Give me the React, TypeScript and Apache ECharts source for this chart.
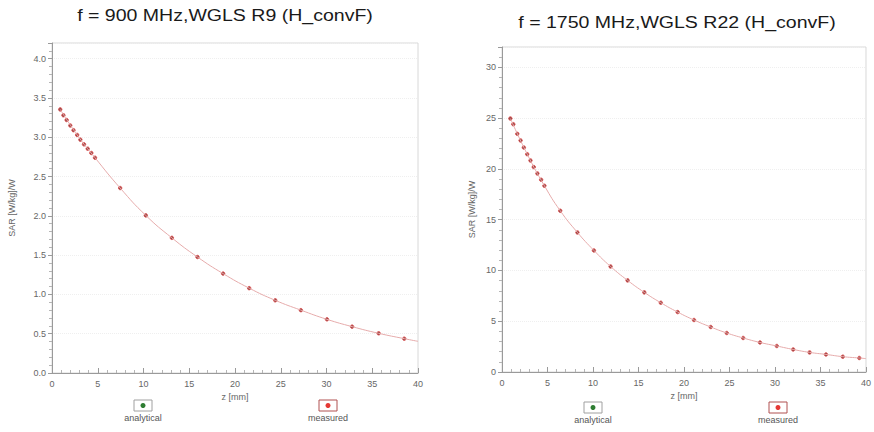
import React, { useEffect, useRef } from "react";
import * as echarts from "echarts";

const leftTitle = "f = 900 MHz,WGLS R9 (H_convF)";
const rightTitle = "f = 1750 MHz,WGLS R22 (H_convF)";
const yName = "SAR [W/kg]/W";
const xName = "z [mm]";
const legendNames = ["analytical", "measured"];

// Left panel (900 MHz) measured points
const leftZ = [0.9, 1.25, 1.6, 2.0, 2.35, 2.75, 3.1, 3.5, 3.9, 4.3, 4.7, 7.45, 10.25, 13.1, 15.9, 18.7, 21.55, 24.4, 27.2, 30.05, 32.8, 35.7, 38.5];
const leftSar = [3.355, 3.28, 3.22, 3.15, 3.09, 3.03, 2.97, 2.91, 2.855, 2.8, 2.74, 2.354, 2.006, 1.72, 1.476, 1.265, 1.08, 0.925, 0.8, 0.683, 0.59, 0.505, 0.437];
// Left analytical curve
const leftLineZ = [0.9, 2.75, 4.7, 7.45, 10.25, 13.1, 15.9, 18.7, 21.55, 24.4, 27.2, 30.05, 32.8, 35.7, 38.5, 40];
const leftLineSar = [3.355, 3.03, 2.74, 2.354, 2.006, 1.72, 1.476, 1.265, 1.08, 0.925, 0.8, 0.683, 0.59, 0.505, 0.437, 0.403];

// Right panel (1750 MHz) measured points
const rightZ = [0.92, 1.24, 1.68, 2.04, 2.4, 2.77, 3.13, 3.49, 3.89, 4.3, 4.66, 6.4, 8.29, 10.1, 11.93, 13.8, 15.64, 17.45, 19.3, 21.1, 22.94, 24.7, 26.5, 28.35, 30.2, 32.0, 33.8, 35.6, 37.45, 39.26];
const rightSar = [24.96, 24.4, 23.45, 22.8, 22.1, 21.45, 20.83, 20.18, 19.55, 18.93, 18.34, 15.88, 13.74, 11.97, 10.39, 9.02, 7.84, 6.82, 5.9, 5.12, 4.43, 3.84, 3.35, 2.91, 2.56, 2.22, 1.93, 1.73, 1.51, 1.38];
// Right analytical curve
const rightLineZ = [0.92, 2.77, 4.66, 6.4, 8.29, 10.1, 11.93, 13.8, 15.64, 17.45, 19.3, 21.1, 22.94, 24.7, 26.5, 28.35, 30.2, 32.0, 33.8, 35.6, 37.45, 39.26, 40];
const rightLineSar = [24.96, 21.45, 18.34, 15.88, 13.74, 11.97, 10.39, 9.02, 7.84, 6.82, 5.9, 5.12, 4.43, 3.84, 3.35, 2.91, 2.56, 2.22, 1.93, 1.73, 1.51, 1.38, 1.32];

const zip = (a: number[], b: number[]) => a.map((v, i) => [v, b[i]]);

const FONT = "Liberation Sans, Arial, sans-serif";
const LABEL_COLOR = "#666";
const AXIS_COLOR = "#9a9a9a";

function xAxisCfg(gridIndex: number) {
  return {
    type: "value",
    gridIndex,
    min: 0,
    max: 40,
    interval: 5,
    name: xName,
    nameLocation: "middle",
    nameGap: 17,
    nameTextStyle: { fontSize: 9, color: LABEL_COLOR, fontFamily: FONT },
    axisLine: { lineStyle: { color: AXIS_COLOR, width: 1 } },
    axisTick: { show: true, inside: true, length: 5, lineStyle: { color: AXIS_COLOR } },
    minorTick: { show: true, splitNumber: 5, length: 3, lineStyle: { color: "#b5b5b5" } },
    axisLabel: { fontSize: 9, color: LABEL_COLOR, fontFamily: FONT, margin: 6 },
    splitLine: { show: false },
  };
}

function yAxisCfg(gridIndex: number, max: number, interval: number, fmt: (v: number) => string, nameGap: number) {
  return {
    type: "value",
    gridIndex,
    min: 0,
    max,
    interval,
    name: yName,
    nameLocation: "middle",
    nameGap,
    nameTextStyle: { fontSize: 9, color: LABEL_COLOR, fontFamily: FONT },
    axisLine: { show: true, lineStyle: { color: AXIS_COLOR, width: 1 } },
    axisTick: { show: true, inside: false, length: 4, lineStyle: { color: AXIS_COLOR } },
    minorTick: { show: true, splitNumber: 5, length: 3, lineStyle: { color: "#b5b5b5" } },
    axisLabel: { fontSize: 9, color: LABEL_COLOR, fontFamily: FONT, margin: 6, formatter: fmt },
    splitLine: { show: true, lineStyle: { color: "#efefef", type: "dotted" } },
  };
}

function legendGroup(cx: number, cy: number, dotColor: string, borderColor: string, label: string) {
  return {
    type: "group",
    children: [
      {
        type: "rect",
        shape: { x: cx - 9, y: cy - 6, width: 18, height: 11 },
        style: { fill: "#fff", stroke: borderColor, lineWidth: 1 },
      },
      {
        type: "circle",
        shape: { cx, cy: cy - 0.5, r: 2.5 },
        style: { fill: dotColor },
      },
      {
        type: "text",
        x: cx,
        y: cy + 12,
        style: {
          text: label,
          fontSize: 9,
          fill: "#555",
          fontFamily: FONT,
          textAlign: "center",
          textVerticalAlign: "middle",
        },
      },
    ],
  };
}

export default function App() {
  const ref = useRef<HTMLDivElement>(null);
  useEffect(() => {
    if (!ref.current) return;
    const chart = echarts.init(ref.current, null, { renderer: "svg" });
    const lineStyle = { color: "#e6abab", width: 1 };
    const dotStyle = { color: "#7e1a1a", borderColor: "#e04a4a", borderWidth: 1 };
    chart.setOption({
      animation: false,
      backgroundColor: "#fff",
      grid: [
        { left: 52, top: 43, width: 366, height: 330, show: true, borderColor: "#d8d8d8", borderWidth: 1, backgroundColor: "transparent" },
        { left: 502, top: 47, width: 367, height: 325, show: true, borderColor: "#d8d8d8", borderWidth: 1, backgroundColor: "transparent" },
      ],
      xAxis: [xAxisCfg(0), xAxisCfg(1)],
      yAxis: [
        yAxisCfg(0, 4.2, 0.5, (v: number) => (Math.abs(v * 2 - Math.round(v * 2)) < 1e-6 ? v.toFixed(1) : ""), 36),
        yAxisCfg(1, 32, 5, (v: number) => (Math.abs(v % 5) < 1e-6 ? String(v) : ""), 26),
      ],
      series: [
        { name: legendNames[0], type: "line", xAxisIndex: 0, yAxisIndex: 0, data: zip(leftLineZ, leftLineSar), smooth: true, showSymbol: false, lineStyle },
        { name: legendNames[1], type: "scatter", xAxisIndex: 0, yAxisIndex: 0, data: zip(leftZ, leftSar), symbolSize: 3.5, itemStyle: dotStyle },
        { name: legendNames[0], type: "line", xAxisIndex: 1, yAxisIndex: 1, data: zip(rightLineZ, rightLineSar), smooth: true, showSymbol: false, lineStyle },
        { name: legendNames[1], type: "scatter", xAxisIndex: 1, yAxisIndex: 1, data: zip(rightZ, rightSar), symbolSize: 3.5, itemStyle: dotStyle },
      ],
      graphic: [
        {
          type: "text",
          x: 225,
          y: 15,
          scaleX: 1.15,
          style: { text: leftTitle, fontSize: 17, fill: "#1a1a1a", fontFamily: FONT, textAlign: "center", textVerticalAlign: "middle" },
        },
        {
          type: "text",
          x: 677,
          y: 22,
          scaleX: 1.15,
          style: { text: rightTitle, fontSize: 17, fill: "#1a1a1a", fontFamily: FONT, textAlign: "center", textVerticalAlign: "middle" },
        },
        legendGroup(143, 406, "#2e7d32", "#a0a0a0", legendNames[0]),
        legendGroup(328, 406, "#e53935", "#b05050", legendNames[1]),
        legendGroup(593, 408, "#2e7d32", "#a0a0a0", legendNames[0]),
        legendGroup(778, 408, "#e53935", "#b05050", legendNames[1]),
      ],
    });
    return () => chart.dispose();
  }, []);
  return (
    <div
      ref={ref}
      style={{ position: "absolute", left: 0, top: 0, width: 874, height: 432, background: "#fff" }}
    />
  );
}
